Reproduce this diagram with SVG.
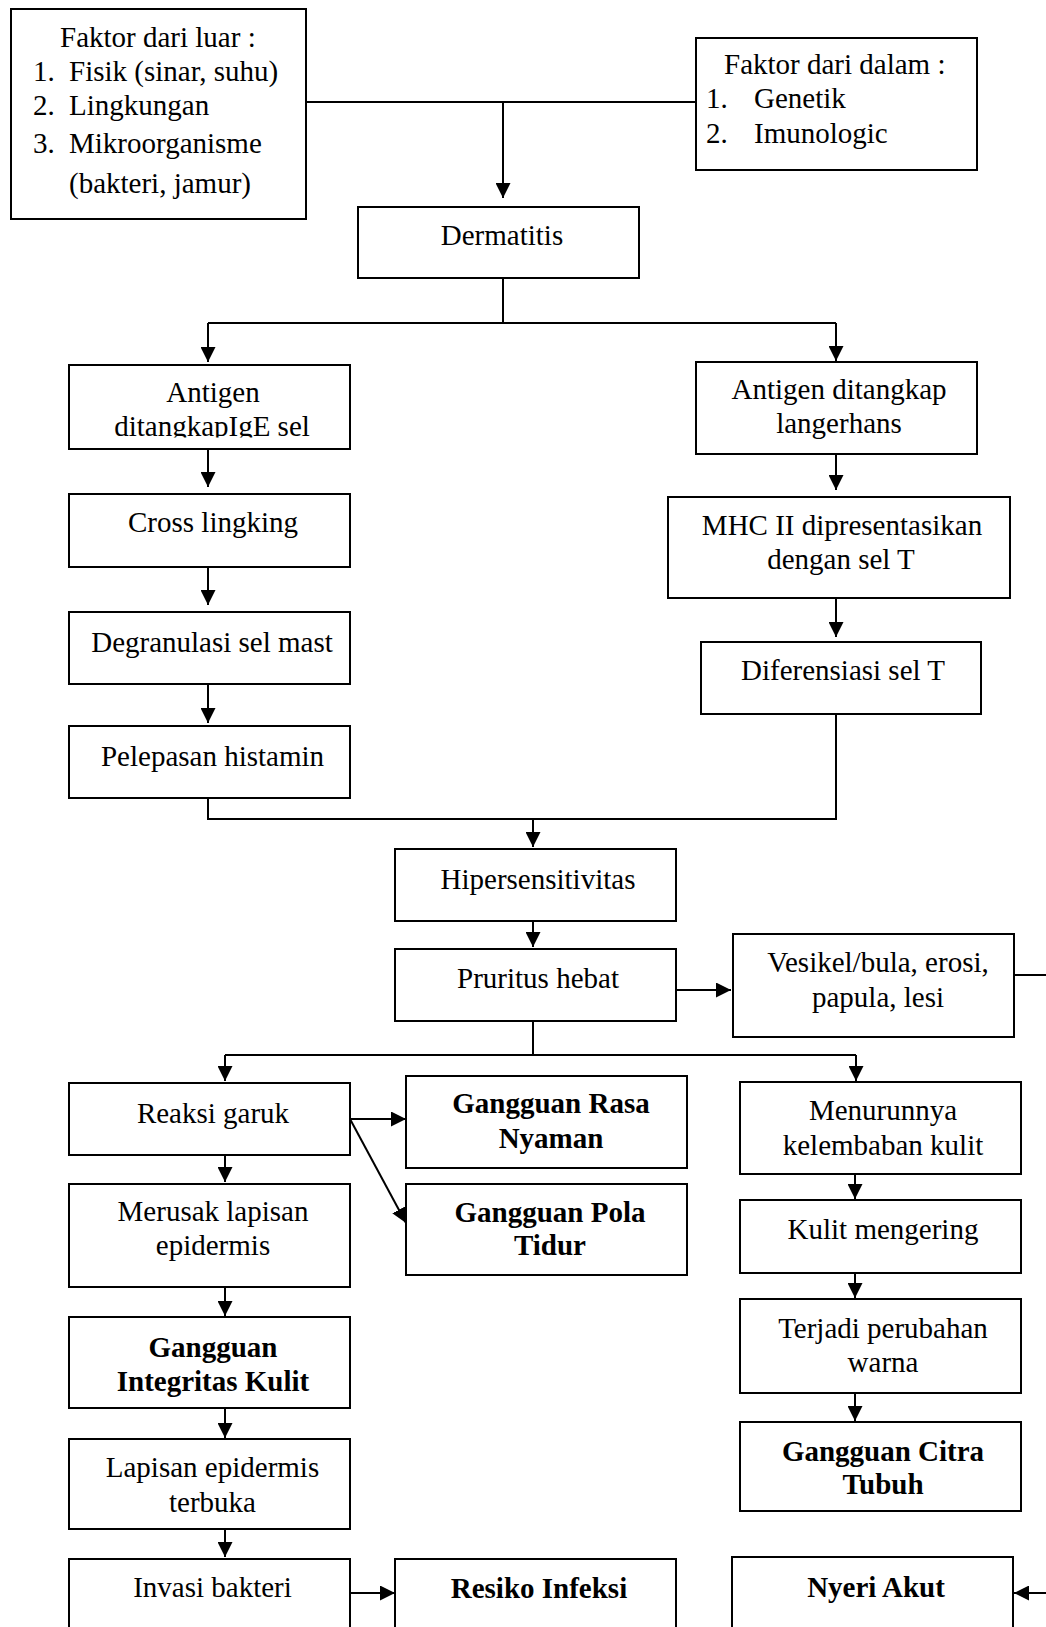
<svg xmlns="http://www.w3.org/2000/svg" width="1046" height="1627" viewBox="0 0 1046 1627">
<defs>
<style>
rect.b{fill:#fff;stroke:#000;stroke-width:2}
text{font-family:"Liberation Serif","Times New Roman",serif;font-size:29px;fill:#000}
text.c{text-anchor:middle}
text.bd{font-weight:bold;text-anchor:middle}
#connectors path{fill:none;stroke:#000;stroke-width:2}
</style>
<marker id="ah" markerUnits="userSpaceOnUse" markerWidth="15" markerHeight="15" refX="14" refY="7" orient="auto" viewBox="0 0 14 14">
<path d="M0,0 L14,7 L0,14 z" fill="#000"/>
</marker>
<clipPath id="clipIgE"><rect x="60" y="360" width="300" height="77.5"/></clipPath>
</defs>
<rect width="1046" height="1627" fill="#fff"/>

<g id="connectors">
<path d="M306,102 H696"/>
<path d="M503,102 V198" marker-end="url(#ah)"/>
<path d="M503,278 V323 M208,323 H836"/>
<path d="M208,323 V362" marker-end="url(#ah)"/>
<path d="M836,323 V361" marker-end="url(#ah)"/>
<path d="M208,449 V487" marker-end="url(#ah)"/>
<path d="M208,567 V605" marker-end="url(#ah)"/>
<path d="M208,684 V723" marker-end="url(#ah)"/>
<path d="M836,454 V490" marker-end="url(#ah)"/>
<path d="M836,598 V637" marker-end="url(#ah)"/>
<path d="M208,798 V819 H836 V714"/>
<path d="M533,819 V847" marker-end="url(#ah)"/>
<path d="M533,921 V947" marker-end="url(#ah)"/>
<path d="M676,990 H731" marker-end="url(#ah)"/>
<path d="M1014,975 H1046"/>
<path d="M533,1021 V1055 M225,1055 H856"/>
<path d="M225,1055 V1081" marker-end="url(#ah)"/>
<path d="M856,1055 V1081" marker-end="url(#ah)"/>
<path d="M225,1155 V1182" marker-end="url(#ah)"/>
<path d="M350,1119 H406" marker-end="url(#ah)"/>
<path d="M350,1119 L406,1223" marker-end="url(#ah)"/>
<path d="M225,1287 V1316" marker-end="url(#ah)"/>
<path d="M225,1408 V1438" marker-end="url(#ah)"/>
<path d="M225,1529 V1557" marker-end="url(#ah)"/>
<path d="M350,1593 H395" marker-end="url(#ah)"/>
<path d="M855,1174 V1199" marker-end="url(#ah)"/>
<path d="M855,1273 V1298" marker-end="url(#ah)"/>
<path d="M855,1393 V1421" marker-end="url(#ah)"/>
<path d="M1046,1593 H1014" marker-end="url(#ah)"/>
</g>

<g id="faktor-luar">
<rect class="b" x="11" y="9" width="295" height="210"/>
<text x="60" y="47">Faktor dari luar :</text>
<text x="33" y="81">1.</text><text x="69" y="81">Fisik (sinar, suhu)</text>
<text x="33" y="115">2.</text><text x="69" y="115">Lingkungan</text>
<text x="33" y="153">3.</text><text x="69" y="153">Mikroorganisme</text>
<text x="69" y="193">(bakteri, jamur)</text>
</g>
<g id="faktor-dalam">
<rect class="b" x="696" y="38" width="281" height="132"/>
<text x="724" y="74">Faktor dari dalam :</text>
<text x="706" y="108">1.</text><text x="754" y="108">Genetik</text>
<text x="706" y="143">2.</text><text x="754" y="143">Imunologic</text>
</g>
<g id="dermatitis">
<rect class="b" x="358" y="207" width="281" height="71"/>
<text class="c" x="502" y="245">Dermatitis</text>
</g>
<g id="antigen-ige">
<rect class="b" x="69" y="365" width="281" height="84"/>
<text class="c" x="213" y="402">Antigen</text>
<text class="c" x="212" y="436" clip-path="url(#clipIgE)">ditangkapIgE sel</text>
</g>
<g id="cross-lingking">
<rect class="b" x="69" y="494" width="281" height="73"/>
<text class="c" x="213" y="532">Cross lingking</text>
</g>
<g id="degranulasi">
<rect class="b" x="69" y="612" width="281" height="72"/>
<text class="c" x="212" y="652">Degranulasi sel mast</text>
</g>
<g id="pelepasan">
<rect class="b" x="69" y="726" width="281" height="72"/>
<text class="c" x="212.5" y="766">Pelepasan histamin</text>
</g>
<g id="antigen-langerhans">
<rect class="b" x="696" y="362" width="281" height="92"/>
<text class="c" x="839" y="399">Antigen ditangkap</text>
<text class="c" x="839" y="433">langerhans</text>
</g>
<g id="mhc">
<rect class="b" x="668" y="497" width="342" height="101"/>
<text class="c" x="842" y="535">MHC II dipresentasikan</text>
<text class="c" x="841" y="569">dengan sel T</text>
</g>
<g id="diferensiasi">
<rect class="b" x="701" y="642" width="280" height="72"/>
<text class="c" x="843" y="680">Diferensiasi sel T</text>
</g>
<g id="hipersensitivitas">
<rect class="b" x="395" y="849" width="281" height="72"/>
<text class="c" x="538" y="889">Hipersensitivitas</text>
</g>
<g id="pruritus">
<rect class="b" x="395" y="949" width="281" height="72"/>
<text class="c" x="538" y="988">Pruritus hebat</text>
</g>
<g id="vesikel">
<rect class="b" x="733" y="934" width="281" height="103"/>
<text class="c" x="878" y="972">Vesikel/bula, erosi,</text>
<text class="c" x="878" y="1007">papula, lesi</text>
</g>
<g id="reaksi-garuk">
<rect class="b" x="69" y="1083" width="281" height="72"/>
<text class="c" x="213" y="1123">Reaksi garuk</text>
</g>
<g id="rasa-nyaman">
<rect class="b" x="406" y="1076" width="281" height="92"/>
<text class="bd" x="551" y="1113">Gangguan Rasa</text>
<text class="bd" x="551" y="1148">Nyaman</text>
</g>
<g id="pola-tidur">
<rect class="b" x="406" y="1184" width="281" height="91"/>
<text class="bd" x="550" y="1222">Gangguan Pola</text>
<text class="bd" x="550" y="1255">Tidur</text>
</g>
<g id="merusak">
<rect class="b" x="69" y="1184" width="281" height="103"/>
<text class="c" x="213" y="1221">Merusak lapisan</text>
<text class="c" x="213" y="1255">epidermis</text>
</g>
<g id="integritas">
<rect class="b" x="69" y="1317" width="281" height="91"/>
<text class="bd" x="213" y="1357">Gangguan</text>
<text class="bd" x="213" y="1391">Integritas Kulit</text>
</g>
<g id="lapisan-terbuka">
<rect class="b" x="69" y="1439" width="281" height="90"/>
<text class="c" x="212.5" y="1477">Lapisan epidermis</text>
<text class="c" x="212.5" y="1512">terbuka</text>
</g>
<g id="invasi">
<rect class="b" x="69" y="1559" width="281" height="100"/>
<text class="c" x="212.5" y="1597">Invasi bakteri</text>
</g>
<g id="resiko">
<rect class="b" x="395" y="1559" width="281" height="100"/>
<text class="bd" x="539" y="1598">Resiko Infeksi</text>
</g>
<g id="menurunnya">
<rect class="b" x="740" y="1082" width="281" height="92"/>
<text class="c" x="883" y="1120">Menurunnya</text>
<text class="c" x="883" y="1155">kelembaban kulit</text>
</g>
<g id="kulit-mengering">
<rect class="b" x="740" y="1200" width="281" height="73"/>
<text class="c" x="883" y="1239">Kulit mengering</text>
</g>
<g id="perubahan-warna">
<rect class="b" x="740" y="1299" width="281" height="94"/>
<text class="c" x="883" y="1338">Terjadi perubahan</text>
<text class="c" x="883" y="1372">warna</text>
</g>
<g id="citra-tubuh">
<rect class="b" x="740" y="1422" width="281" height="89"/>
<text class="bd" x="883" y="1461">Gangguan Citra</text>
<text class="bd" x="883" y="1494">Tubuh</text>
</g>
<g id="nyeri-akut">
<rect class="b" x="732" y="1557" width="281" height="100"/>
<text class="bd" x="876" y="1597">Nyeri Akut</text>
</g>
</svg>
